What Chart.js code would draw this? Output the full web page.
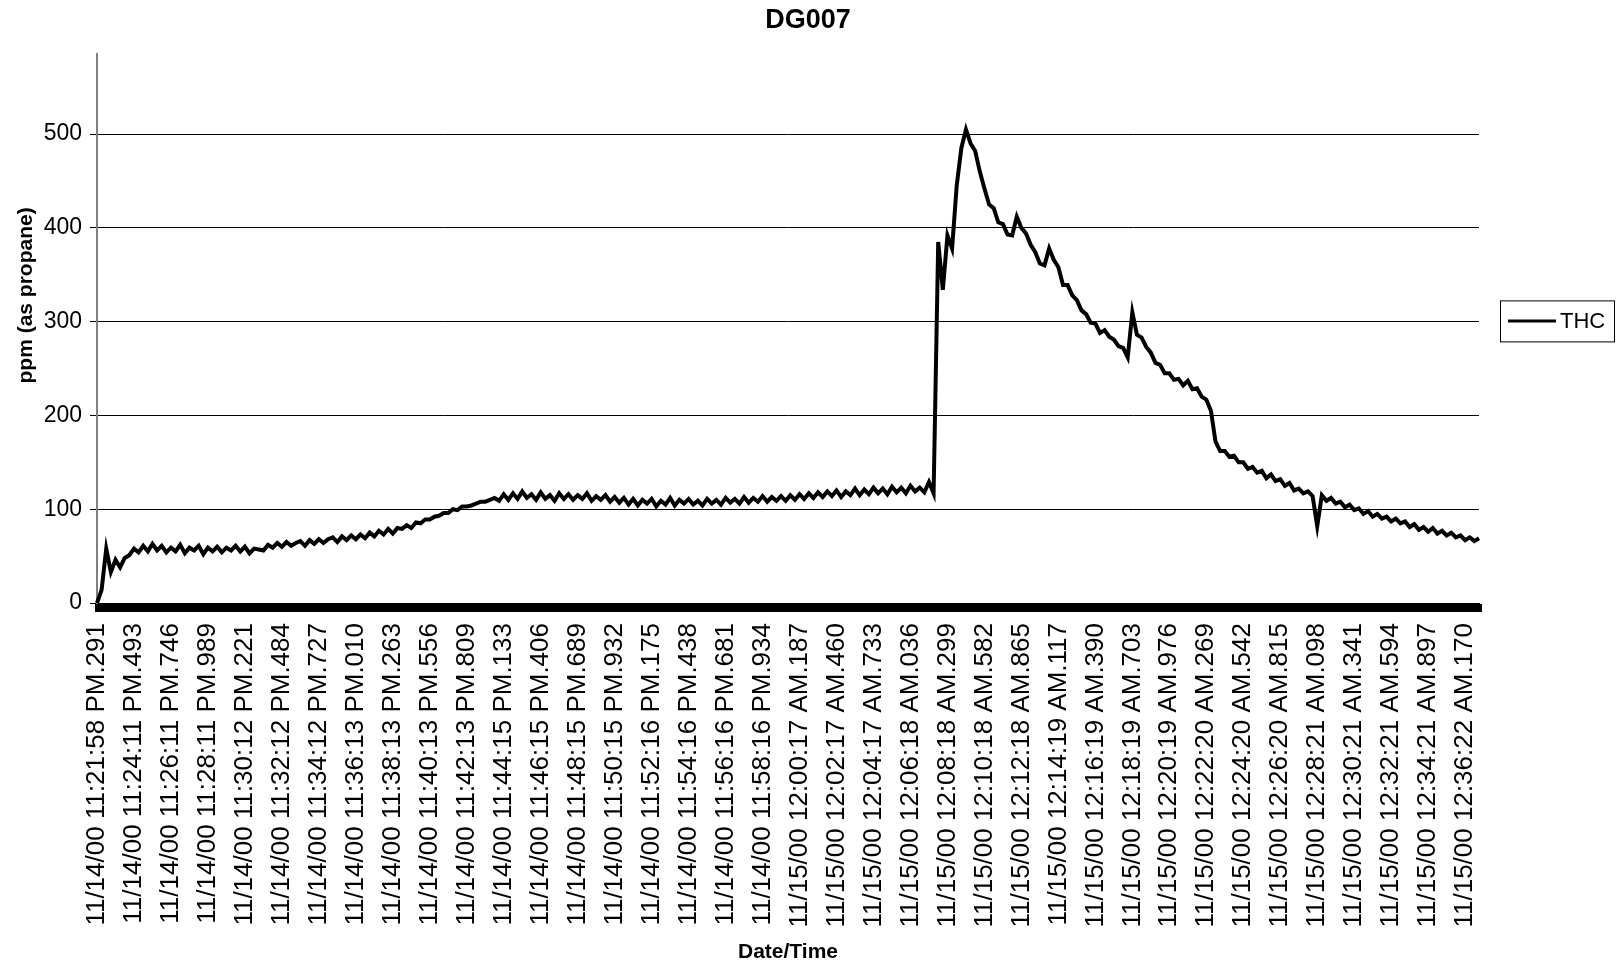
<!DOCTYPE html>
<html>
<head>
<meta charset="utf-8">
<title>DG007</title>
<script src="https://cdn.jsdelivr.net/npm/chart.js@4.4.1/dist/chart.umd.min.js"></script>
<style>
  html, body { margin: 0; padding: 0; background: #fff; }
  #wrap { width: 1616px; height: 968px; }
</style>
</head>
<body>
<div id="wrap"><canvas id="chart" width="1616" height="968"></canvas></div>
<script>
const tickLabels = [
  "11/14/00 11:21:58 PM.291", "11/14/00 11:24:11 PM.493", "11/14/00 11:26:11 PM.746",
  "11/14/00 11:28:11 PM.989", "11/14/00 11:30:12 PM.221", "11/14/00 11:32:12 PM.484",
  "11/14/00 11:34:12 PM.727", "11/14/00 11:36:13 PM.010", "11/14/00 11:38:13 PM.263",
  "11/14/00 11:40:13 PM.556", "11/14/00 11:42:13 PM.809", "11/14/00 11:44:15 PM.133",
  "11/14/00 11:46:15 PM.406", "11/14/00 11:48:15 PM.689", "11/14/00 11:50:15 PM.932",
  "11/14/00 11:52:16 PM.175", "11/14/00 11:54:16 PM.438", "11/14/00 11:56:16 PM.681",
  "11/14/00 11:58:16 PM.934", "11/15/00 12:00:17 AM.187", "11/15/00 12:02:17 AM.460",
  "11/15/00 12:04:17 AM.733", "11/15/00 12:06:18 AM.036", "11/15/00 12:08:18 AM.299",
  "11/15/00 12:10:18 AM.582", "11/15/00 12:12:18 AM.865", "11/15/00 12:14:19 AM.117",
  "11/15/00 12:16:19 AM.390", "11/15/00 12:18:19 AM.703", "11/15/00 12:20:19 AM.976",
  "11/15/00 12:22:20 AM.269", "11/15/00 12:24:20 AM.542", "11/15/00 12:26:20 AM.815",
  "11/15/00 12:28:21 AM.098", "11/15/00 12:30:21 AM.341", "11/15/00 12:32:21 AM.594",
  "11/15/00 12:34:21 AM.897", "11/15/00 12:36:22 AM.170"
];

// THC readings, ppm as propane (8 readings between labelled times)
const thcValues = [
  0, 14, 58, 33, 46, 38, 48, 51, 58, 54,
  61, 55, 63, 56, 61, 54, 59, 55, 62, 53,
  59, 56, 61, 52, 59, 55, 60, 54, 59, 56,
  61, 55, 60, 53, 58, 57, 56, 62, 59, 64,
  60, 65, 61, 64, 66, 61, 67, 63, 68, 64,
  68, 70, 65, 71, 67, 72, 68, 73, 69, 75,
  71, 77, 73, 79, 74, 80, 79, 83, 80, 86,
  85, 89, 89, 92, 93, 96, 96, 100, 99, 103,
  103, 104, 106, 108, 108, 110, 112, 109, 116, 110,
  117, 111, 119, 112, 116, 110, 118, 111, 115, 109,
  117, 111, 116, 110, 115, 111, 117, 109, 114, 110,
  115, 108, 113, 107, 112, 105, 111, 104, 110, 106,
  111, 103, 109, 105, 112, 104, 110, 106, 111, 105,
  109, 104, 111, 106, 110, 105, 112, 107, 111, 106,
  113, 107, 112, 108, 114, 108, 113, 109, 114, 109,
  115, 110, 116, 111, 117, 112, 118, 113, 119, 114,
  120, 113, 119, 115, 122, 115, 121, 116, 123, 117,
  122, 116, 124, 118, 123, 117, 125, 119, 123, 118,
  129, 117, 385, 334, 392, 378, 445, 485, 505, 490,
  482, 460, 442, 425, 421, 406, 404, 393, 392, 412,
  400, 394, 382, 374, 362, 360, 378, 366, 358, 339,
  339, 328, 323, 312, 308, 299, 298, 288, 291, 284,
  281, 274, 272, 262, 310, 286, 283, 273, 267, 256,
  254, 245, 245, 238, 239, 232, 237, 228, 229, 220,
  217, 205, 172, 162, 162, 156, 157, 150, 150, 143,
  145, 139, 141, 133, 137, 130, 132, 125, 128, 120,
  122, 117, 119, 114, 82, 115, 109, 112, 106, 108,
  102, 105, 99, 101, 95, 98, 92, 95, 90, 92,
  87, 90, 85, 87, 81, 84, 78, 81, 76, 80,
  74, 77, 72, 75, 70, 72, 67, 70, 66, 69
];

const seriesName = "THC";
const yTitle = "ppm (as propane)";
const perLabel = 8;
const categories = thcValues.map((v, i) => (i % perLabel === 0 ? tickLabels[i / perLabel] || "" : ""));

const FONT = "'Liberation Sans', Arial, Helvetica, sans-serif";

// legend box and the value axis title, drawn by hand
const extras = {
  id: "extras",
  afterDraw(chart) {
    const ctx = chart.ctx;
    const area = chart.chartArea;
    const x = area.right + 21;
    const y = area.top + 246;
    const w = 114, h = 41;
    ctx.save();
    ctx.strokeStyle = "#000";
    ctx.lineWidth = 1;
    ctx.strokeRect(x + 0.5, y + 0.5, w, h);
    ctx.lineWidth = 3;
    ctx.beginPath();
    ctx.moveTo(x + 8, y + 20.5);
    ctx.lineTo(x + 56, y + 20.5);
    ctx.stroke();
    ctx.fillStyle = "#000";
    ctx.font = "22px " + FONT;
    ctx.textBaseline = "middle";
    ctx.fillText(chart.data.datasets[0].label, x + 60, y + 22);

    ctx.translate(26, area.top + 241);
    ctx.rotate(-Math.PI / 2);
    ctx.font = "bold 21px " + FONT;
    ctx.textAlign = "center";
    ctx.fillText(yTitle, 0, 0);
    ctx.restore();
  }
};

new Chart(document.getElementById("chart"), {
  type: "line",
  plugins: [extras],
  data: {
    labels: categories,
    datasets: [{
      label: seriesName,
      data: thcValues,
      borderColor: "#000",
      borderWidth: 4,
      borderJoinStyle: "miter",
      pointRadius: 0,
      tension: 0,
      fill: false
    }]
  },
  options: {
    responsive: false,
    animation: false,
    layout: { padding: 0 },
    plugins: {
      legend: { display: false },
      tooltip: { enabled: false },
      title: {
        display: true,
        text: "DG007",
        color: "#000",
        font: { family: FONT, size: 27, weight: "bold" },
        padding: { top: 4, bottom: 18 }
      }
    },
    scales: {
      x: {
        type: "category",
        offset: false,
        grid: {
          display: true,
          drawOnChartArea: false,
          drawTicks: true,
          tickLength: 9,
          tickWidth: 5,
          tickColor: "#000",
          offset: false
        },
        border: { display: true, color: "#000", width: 1 },
        ticks: {
          autoSkip: false,
          minRotation: 90,
          maxRotation: 90,
          padding: 11,
          color: "#000",
          font: { family: FONT, size: 26 }
        },
        title: {
          display: true,
          text: "Date/Time",
          color: "#000",
          font: { family: FONT, size: 21, weight: "bold" },
          padding: { top: 0, bottom: 3 }
        },
        afterFit(scale) { scale.height = 365; }
      },
      y: {
        type: "linear",
        position: "left",
        min: 0,
        max: 585,
        ticks: {
          stepSize: 100,
          padding: 8,
          color: "#000",
          font: { family: FONT, size: 23 }
        },
        afterBuildTicks(scale) {
          scale.ticks = scale.ticks.filter(t => t.value % 100 === 0);
        },
        grid: {
          color: "#000",
          lineWidth: 1,
          drawTicks: true,
          tickLength: 7,
          tickColor: "#000"
        },
        border: { display: true, color: "#808080", width: 2 },
        title: { display: false },
        afterFit(scale) { scale.width = 97; }
      },
      legendSpace: {
        type: "linear",
        position: "right",
        display: true,
        grid: { display: false, drawTicks: false },
        border: { display: false },
        ticks: { display: false },
        afterFit(scale) { scale.width = 137; }
      }
    }
  }
});
</script>
</body>
</html>
